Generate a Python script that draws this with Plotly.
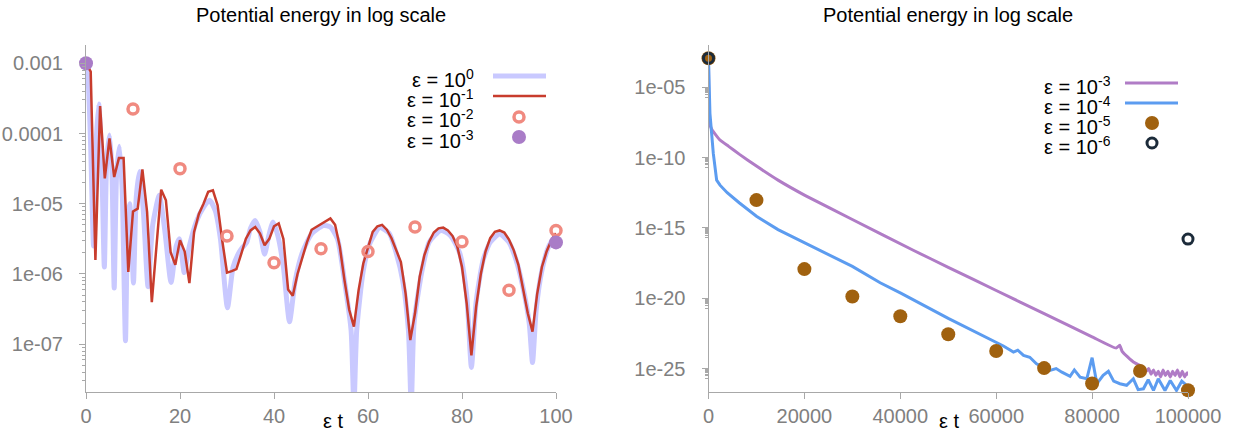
import numpy as np
import plotly.graph_objects as go

# ---------------- Left panel data (log10 of potential energy) ----------------
t_eps0 = [0, 0.5, 1.0, 1.6, 2.1, 2.7, 3.3, 3.9, 4.4, 5.0, 5.5, 6.0, 6.5, 7.1, 7.7, 8.4, 8.9, 9.3, 9.7, 10.1,
          10.7, 11.4, 12.2, 13.2, 14.2, 15.6, 16.8, 18.1, 19.2, 19.9, 20.9, 22.0, 23.5, 25.0, 26.3, 27.5, 28.6, 30.1, 31.3, 32.5,
          33.3, 34.2, 35.0, 36.0, 37.0, 38.0, 38.9, 39.8, 40.8, 42.0, 43.3, 44.5, 46.0, 48.0, 50.5, 52.0, 53.5, 55.0, 56.4, 57.0,
          57.6, 59.0, 60.5, 62.5, 64.5, 66.0, 67.4, 68.6, 69.2, 69.8, 71.5, 73.0, 75.5, 77.5, 79.5, 81.0, 82.0, 83.0, 84.5, 86.0,
          88.0, 90.0, 91.5, 93.0, 94.3, 95.0, 95.8, 97.0, 98.5, 100.0]
log_eps0 = [-3.0, -3.3, -4.2, -5.6, -4.2, -3.58, -4.3, -5.9, -4.4, -4.02, -4.5, -6.2, -4.6, -4.18, -4.8, -6.95, -5.2, -5.0, -5.5, -6.13,
            -4.9, -4.54, -5.1, -6.18, -5.3, -4.88, -5.4, -6.12, -5.6, -5.5, -5.98, -5.6, -5.25, -5.05, -4.95, -5.1, -5.5, -6.48, -5.9, -5.7,
            -5.62, -5.55, -5.35, -5.24, -5.4, -5.72, -5.45, -5.26, -5.45, -5.9, -6.68, -6.1, -5.7, -5.43, -5.31, -5.33, -5.5, -6.1, -6.8, -7.9,
            -6.8, -5.95, -5.55, -5.34, -5.42, -5.7, -6.1, -6.8, -7.9, -6.7, -5.95, -5.55, -5.38, -5.45, -5.7, -6.3, -7.33, -6.4, -5.8, -5.55,
            -5.43, -5.55, -5.8, -6.2, -6.7, -7.26, -6.5, -5.95, -5.6, -5.45]

t_eps1 = list(range(0, 101))
log_eps1 = [-3.00, -3.12, -5.80, -3.61, -4.64, -4.07, -4.62, -4.35, -4.35, -5.97,
            -5.11, -5.07, -4.51, -5.12, -6.40, -5.57, -4.80, -4.95, -5.69, -5.87,
            -5.52, -5.68, -6.13, -5.40, -5.15, -5.00, -4.83, -4.81, -5.02, -5.53,
            -5.98, -5.96, -5.93, -5.72, -5.50, -5.38, -5.33, -5.42, -5.59, -5.50,
            -5.32, -5.28, -5.50, -6.22, -6.31, -6.00, -5.76, -5.55, -5.37, -5.33,
            -5.30, -5.26, -5.21, -5.30, -5.61, -6.09, -6.51, -6.75, -6.23, -5.85,
            -5.61, -5.40, -5.32, -5.30, -5.37, -5.49, -5.66, -5.83, -6.28, -6.94,
            -6.56, -6.04, -5.73, -5.54, -5.41, -5.35, -5.34, -5.38, -5.46, -5.61,
            -5.90, -6.42, -7.16, -6.47, -6.00, -5.68, -5.49, -5.40, -5.38, -5.41,
            -5.51, -5.66, -5.87, -6.23, -6.56, -6.82, -6.28, -5.90, -5.68, -5.52,
            -5.42]

t_eps2 = [10, 20, 30, 40, 50, 60, 70, 80, 90, 100]
log_eps2 = [-3.65, -4.50, -5.46, -5.84, -5.64, -5.68, -5.33, -5.54, -6.23, -5.38]

t_eps3 = [0, 100]
log_eps3 = [-3.0, -5.55]

# ---------------- Right panel data (log10 of potential energy) ----------------
t_r3 = [0, 200, 700, 2400, 4200, 6400, 10000, 14500, 20200, 30000, 42700, 50000, 60000, 70000, 80000, 85000, 85750, 86300,
        88600, 90700, 91300, 91800, 92300, 92800, 93300, 93800, 94300, 94800, 95300, 95800, 96300, 96800, 97300,
        97800, 98300, 98800, 99300, 99800, 100000]
log_r3 = [-2.93, -7.5, -8.0, -8.75, -9.2, -9.75, -10.6, -11.6, -12.7, -14.4, -16.59, -17.8, -19.45, -21.1, -22.75, -23.55, -23.35, -23.8,
          -24.54, -24.9, -25.2, -25.0, -25.4, -25.1, -25.5, -25.2, -25.6, -25.1, -25.5, -25.2, -25.6, -25.2, -25.5,
          -25.1, -25.6, -25.2, -25.6, -25.3, -25.5]

t_r4 = [0, 300, 1000, 1700, 2400, 3900, 6400, 10000, 14500, 20100, 30000, 35800, 40100, 50000, 59750, 61500, 63600, 64500,
        65700, 67000, 68400, 70000, 71200, 72500, 73700, 75400, 76300, 77500, 78900, 80000, 81000, 82300, 83400, 84500,
        85800, 87200, 88600, 89600, 90700, 91700, 92800, 93800, 95200, 96300, 97600, 98700, 99700, 100000]
log_r4 = [-2.93, -6.85, -9.7, -11.6, -11.96, -12.5, -13.21, -14.17, -15.12, -16.07, -17.74, -18.9, -19.64, -21.43, -23.05, -23.4, -23.83, -23.7,
          -24.07, -24.2, -24.66, -24.9, -25.13, -25.0, -25.26, -25.56, -25.1, -25.61, -25.73, -24.23, -26.08, -25.48, -25.19, -25.9,
          -26.08, -26.19, -25.73, -26.5, -26.44, -25.8, -26.56, -25.73, -26.56, -25.85, -26.56, -25.9, -26.2, -26.5]

t_r5 = [0, 10000, 20000, 30000, 40000, 50000, 60000, 70000, 80000, 90000, 100000]
log_r5 = [-2.93, -13.02, -17.93, -19.88, -21.28, -22.56, -23.75, -24.97, -26.07, -25.18, -26.55]

t_r6 = [0, 100000]
log_r6 = [-2.93, -15.79]

# tick labels
left_xticks = [0, 20, 40, 60, 80, 100]
left_yticks = [1e-3, 1e-4, 1e-5, 1e-6, 1e-7]
left_ytext = ["0.001", "0.0001", "1e-05", "1e-06", "1e-07"]
right_xticks = [0, 20000, 40000, 60000, 80000, 100000]
right_yticks = [1e-5, 1e-10, 1e-15, 1e-20, 1e-25]
right_ytext = ["1e-05", "1e-10", "1e-15", "1e-20", "1e-25"]

TITLE = "Potential energy in log scale"
XLABEL = "ε t"
left_legend = ["ε = 10<sup>0</sup>", "ε = 10<sup>-1</sup>", "ε = 10<sup>-2</sup>", "ε = 10<sup>-3</sup>"]
right_legend = ["ε = 10<sup>-3</sup>", "ε = 10<sup>-4</sup>", "ε = 10<sup>-5</sup>", "ε = 10<sup>-6</sup>"]

# colours
C_LAV = "#c9c9ff"
C_RED = "#c83c2d"
C_SALMON = "#f08a80"
C_PURPLE = "#a97cc7"
C_RPURPLE = "#b07cc6"
C_BLUE = "#5c9cf0"
C_BROWN = "#a0610f"
C_DARK = "#1c2b3a"

W, H = 1236, 434
MT, MB = 45, 42
PH = H - MT - MB
FONT = "Liberation Sans, Arial, Helvetica, sans-serif"


def pow10(a):
    return np.power(10.0, np.array(a, dtype=float))


fig = go.Figure()

# left panel
fig.add_trace(go.Scatter(x=t_eps0, y=pow10(log_eps0), mode="lines",
                         line=dict(color=C_LAV, width=5, shape="spline", smoothing=0.6),
                         xaxis="x", yaxis="y", hoverinfo="skip"))
fig.add_trace(go.Scatter(x=t_eps1, y=pow10(log_eps1), mode="lines",
                         line=dict(color=C_RED, width=2.5), xaxis="x", yaxis="y"))
fig.add_trace(go.Scatter(x=t_eps2, y=pow10(log_eps2), mode="markers", cliponaxis=False,
                         marker=dict(symbol="circle-open", size=10, color=C_SALMON, line=dict(width=3.5, color=C_SALMON)),
                         xaxis="x", yaxis="y"))
fig.add_trace(go.Scatter(x=t_eps3, y=pow10(log_eps3), mode="markers", cliponaxis=False,
                         marker=dict(symbol="circle", size=14, color=C_PURPLE, line=dict(width=0)),
                         xaxis="x", yaxis="y"))

# right panel
fig.add_trace(go.Scatter(x=t_r3, y=pow10(log_r3), mode="lines",
                         line=dict(color=C_RPURPLE, width=3, shape="spline", smoothing=0.4), xaxis="x2", yaxis="y2"))
fig.add_trace(go.Scatter(x=t_r4, y=pow10(log_r4), mode="lines",
                         line=dict(color=C_BLUE, width=3), xaxis="x2", yaxis="y2"))
fig.add_trace(go.Scatter(x=t_r5, y=pow10(log_r5), mode="markers", cliponaxis=False,
                         marker=dict(symbol="circle", size=14, color=C_BROWN, line=dict(width=0)),
                         xaxis="x2", yaxis="y2"))
fig.add_trace(go.Scatter(x=t_r6, y=pow10(log_r6), mode="markers", cliponaxis=False,
                         marker=dict(symbol="circle-open", size=10, color=C_DARK, line=dict(width=3, color=C_DARK)),
                         xaxis="x2", yaxis="y2"))


def minor_vals(exps):
    return [k * 10.0 ** e for e in exps for k in range(2, 10)]


axis_common = dict(showline=True, linecolor="#a8a8a8", linewidth=1, ticks="outside", ticklen=6,
                   tickcolor="#a8a8a8", tickwidth=1, showgrid=False, zeroline=False, mirror=False,
                   tickfont=dict(family=FONT, size=20, color="#808080"), tickmode="array")

LX0, LX1 = 86, 556
RX0, RX1 = 708.5, 1188

fig.update_layout(
    width=W, height=H, margin=dict(l=0, r=0, t=MT, b=MB, autoexpand=False),
    plot_bgcolor="white", paper_bgcolor="white", showlegend=False,
    xaxis=dict(axis_common, domain=[LX0 / W, LX1 / W], range=[0, 100], tickvals=left_xticks,
               ticktext=[str(v) for v in left_xticks], anchor="y", ticklabelstandoff=0),
    yaxis=dict(axis_common, type="log", range=[-7.68, -2.74], tickvals=left_yticks, ticktext=left_ytext,
               anchor="x", ticklabelstandoff=12,
               minor=dict(tickmode="array", tickvals=minor_vals(range(-8, -2)), ticks="outside", ticklen=3,
                          tickcolor="#a8a8a8", showgrid=False)),
    xaxis2=dict(axis_common, domain=[RX0 / W, RX1 / W], range=[0, 100000], tickvals=right_xticks,
                ticktext=[str(v) for v in right_xticks], anchor="y2", ticklabelstandoff=0),
    yaxis2=dict(axis_common, type="log", range=[-26.67, -1.99], tickvals=right_yticks, ticktext=right_ytext,
                anchor="x2", ticklabelstandoff=12,
                minor=dict(tickmode="array", tickvals=minor_vals([-6, -11, -16, -21, -26]), ticks="outside",
                           ticklen=3, tickcolor="#a8a8a8", showgrid=False)),
)


def py(ypx):
    return (H - MB - ypx) / PH


annotations = []
shapes = []
# titles and axis labels
for cx, lx in [((LX0 + LX1) / 2, 333), ((RX0 + RX1) / 2, 949)]:
    annotations.append(dict(text=TITLE, x=cx / W, y=py(15), xref="paper", yref="paper", showarrow=False,
                            xanchor="center", yanchor="middle", font=dict(family=FONT, size=20, color="black")))
    annotations.append(dict(text=XLABEL, x=lx / W, y=py(421), xref="paper", yref="paper", showarrow=False,
                            xanchor="center", yanchor="middle", font=dict(family=FONT, size=20, color="black")))

# legends (text right-aligned, key sample on the right like the original)
leg_specs = [
    (left_legend, 475, 493, 546, 519, [76, 96, 117, 137],
     [("line", C_LAV, 5), ("line", C_RED, 2.5), ("ring", C_SALMON, 3.5), ("dot", C_PURPLE, 7)]),
    (right_legend, 1112, 1125, 1178, 1152, [83, 103, 123, 143],
     [("line", C_RPURPLE, 3), ("line", C_BLUE, 3), ("dot", C_BROWN, 7), ("ring", C_DARK, 3)]),
]
for labels, tx, sx0, sx1, mx, rows, keys in leg_specs:
    for lab, ry, (kind, col, w) in zip(labels, rows, keys):
        annotations.append(dict(text=lab, x=tx / W, y=py(ry + 2), xref="paper", yref="paper", showarrow=False,
                                xanchor="right", yanchor="middle", height=19, valign="middle", borderpad=0,
                                font=dict(family=FONT, size=20, color="black")))
        if kind == "line":
            shapes.append(dict(type="line", xref="paper", yref="paper", x0=sx0 / W, x1=sx1 / W,
                               y0=py(ry), y1=py(ry), line=dict(color=col, width=w)))
        elif kind == "dot":
            shapes.append(dict(type="circle", xref="paper", yref="paper", xsizemode="pixel", ysizemode="pixel",
                               xanchor=mx / W, yanchor=py(ry), x0=-w, x1=w, y0=-w, y1=w,
                               fillcolor=col, line=dict(width=0)))
        else:
            shapes.append(dict(type="circle", xref="paper", yref="paper", xsizemode="pixel", ysizemode="pixel",
                               xanchor=mx / W, yanchor=py(ry), x0=-5, x1=5, y0=-5, y1=5,
                               fillcolor="rgba(0,0,0,0)", line=dict(width=w, color=col)))

fig.update_layout(annotations=annotations, shapes=shapes)
fig.write_html("out.html", config={"displayModeBar": False, "staticPlot": True},
               post_script="document.body.style.margin='0px';document.body.style.overflow='hidden';")
